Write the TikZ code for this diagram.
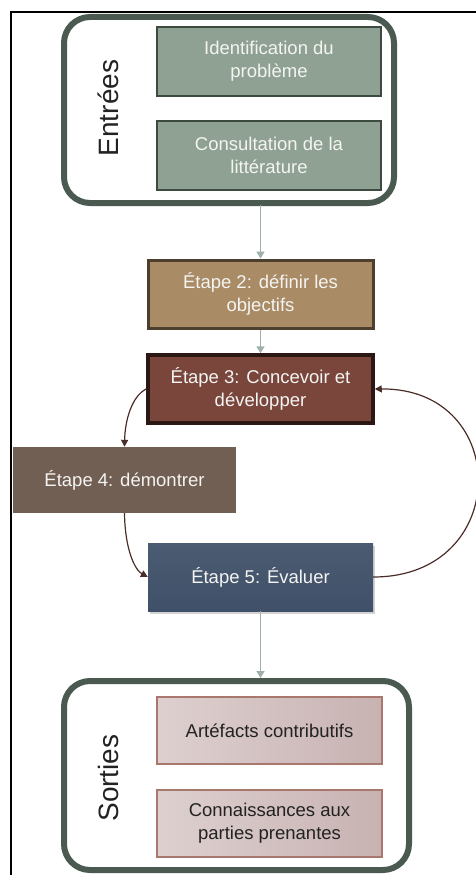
\documentclass[tikz,border=0pt]{standalone}
\usepackage{fontspec}
\setmainfont{Liberation Sans}
\usetikzlibrary{arrows.meta,shadows}

\definecolor{framegreen}{HTML}{4B5A51}
\definecolor{infill}{HTML}{8FA192}
\definecolor{inborder}{HTML}{3D4A40}
\definecolor{lightarrow}{HTML}{9FB0A8}
\definecolor{tanfill}{HTML}{A98B66}
\definecolor{tanborder}{HTML}{4D3F2E}
\definecolor{redfill}{HTML}{7A463C}
\definecolor{redborder}{HTML}{2B1714}
\definecolor{brownfill}{HTML}{725F54}
\definecolor{bluefill}{HTML}{3F5068}
\definecolor{bluefilltop}{HTML}{4A5B72}
\definecolor{pinkA}{HTML}{DED0D0}
\definecolor{pinkB}{HTML}{C8B2B2}
\definecolor{pinkborder}{HTML}{A8786E}
\definecolor{loopcol}{HTML}{4A2D28}
\definecolor{lighttext}{HTML}{F4F4F2}
\definecolor{darktext}{HTML}{222222}

\tikzset{
  container/.style={draw=framegreen, line width=6pt, rounded corners=26pt},
  boxbase/.style={rectangle, align=center, font=\fontsize{18.5}{23}\selectfont,
    inner sep=2pt},
  inbox/.style={boxbase, fill=infill, draw=inborder, line width=2pt,
    text=lighttext, minimum width=224pt, minimum height=69pt},
  stepbox/.style={boxbase, text=lighttext, minimum width=225pt, minimum height=68pt},
  outbox/.style={boxbase, left color=pinkA, right color=pinkB, draw=pinkborder,
    line width=1.2pt, text=darktext, minimum width=225pt, minimum height=67pt},
  sidelabel/.style={rotate=90, font=\fontsize{28}{30}\selectfont, text=darktext},
  flow/.style={draw=lightarrow, line width=1.6pt,
    -{Triangle[width=8pt,length=7pt]}},
  loop/.style={draw=loopcol, line width=1.2pt,
    -{Triangle[width=7pt,length=7pt]}},
}

\begin{document}
\begin{tikzpicture}[x=1pt,y=-1pt]
  \useasboundingbox (0,0) rectangle (476,875);
  \clip (0,0) rectangle (476,875);

  % outer page frame
  \draw[black, line width=1.5pt] (11,12) rectangle (520,920);

  % inputs group
  \node[container, minimum width=330pt, minimum height=186pt] (ent) at (229,110) {};
  \node[sidelabel] (entlbl) at (108,108) {Entrées};
  \node[inbox] (in1) at (269,61.5) {Identification du\\problème};
  \node[inbox] (in2) at (269,155.5) {Consultation de la\\littérature};

  % steps
  \node[stepbox, fill=tanfill, draw=tanborder, line width=3pt] (s2) at (260.5,294)
    {Étape 2: définir les\\objectifs};
  \node[stepbox, fill=redfill, draw=redborder, line width=3.5pt,
        drop shadow={opacity=0.25, shadow xshift=2pt, shadow yshift=-2pt}] (s3) at (260.5,389)
    {Étape 3: Concevoir et\\développer};
  \node[stepbox, fill=brownfill, minimum width=223pt, minimum height=66pt] (s4) at (124.5,480)
    {Étape 4: démontrer};
  \node[stepbox, top color=bluefilltop, bottom color=bluefill,
        drop shadow={opacity=0.35, shadow xshift=2pt, shadow yshift=-2.5pt}] (s5) at (260.5,577)
    {Étape 5: Évaluer};

  % outputs group
  \node[container, minimum width=345pt, minimum height=189pt] (sor) at (236.5,775.5) {};
  \node[sidelabel] (sorlbl) at (108,778) {Sorties};
  \node[outbox] (out1) at (269.5,730.5) {Artéfacts contributifs};
  \node[outbox] (out2) at (269.5,823.5) {Connaissances aux\\parties prenantes};

  % straight flow
  \draw[flow] (s2.north |- ent.south) ++(0,-1) -- (s2.north);
  \draw[flow] (s2.south) -- (s3.north);
  \draw[flow] (s5.south) -- (s5.south |- sor.north);

  % design / demonstrate / evaluate cycle
  \draw[loop] (s3.west) .. controls (132,396) and (125,420) .. (s4.north);
  \draw[loop] (s4.south) .. controls (125,550) and (135,570) .. (s5.west);
  \draw[loop] (s5.east) .. controls (512,577) and (512,388) .. (s3.east);
\end{tikzpicture}
\end{document}
